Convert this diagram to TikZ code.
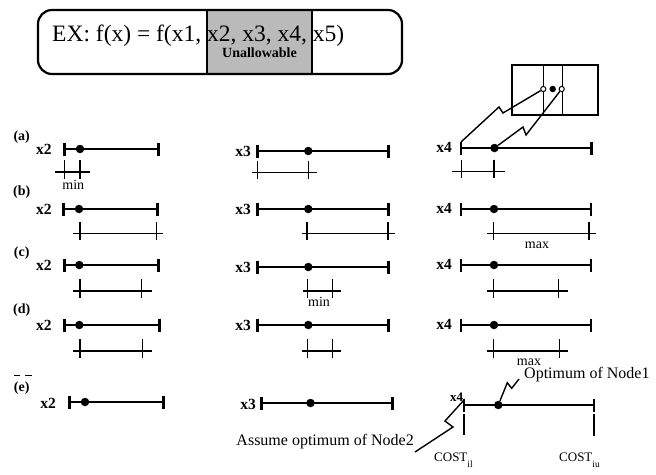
\documentclass[tikz,border=0pt]{standalone}
\usepackage{fontspec}
\setmainfont{Liberation Serif}
\newcommand{\mainbar}[5]{% name, y, left, right, dot
  \draw[mainline] (#3,#2) -- (#4,#2);
  \draw[mainline] (#3,#2-6.5) -- (#3,#2+6.5);
  \draw[mainline] (#4,#2-6.5) -- (#4,#2+6.5);
  \node[dot] (#1) at (#5,#2) {};
}
\newcommand{\subbar}[5]{% y, left, right, tick1, tick2
  \draw[subline] (#2,#1) -- (#3,#1);
  \draw[subline] (#4,#1-12) -- (#4,#1+6.5);
  \draw[subline] (#5,#1-12) -- (#5,#1+6.5);
}
\begin{document}
\begin{tikzpicture}[x=1pt,y=-1pt,
  mainline/.style={line width=2.6pt},
  subline/.style={line width=1.2pt},
  dot/.style={circle,fill,inner sep=0pt,minimum size=8.5pt},
  odot/.style={circle,draw,fill=white,inner sep=0pt,minimum size=5.2pt,line width=1pt},
  rowlab/.style={font=\fontsize{14}{16}\selectfont\bfseries,inner sep=0pt},
  varlab/.style={font=\fontsize{15.5}{17}\selectfont\bfseries,inner sep=0pt},
  smalltext/.style={font=\fontsize{14}{16}\selectfont,inner sep=0pt},
  note/.style={font=\fontsize{16}{18}\selectfont,inner sep=0pt},
  costlab/.style={font=\fontsize{13}{15}\selectfont,inner sep=0pt,anchor=base west},
  zig/.style={line width=1.4pt}]
\useasboundingbox (0,0) rectangle (656,474);

% ---- title box
\fill[black!27] (207,10) rectangle (312,74);
\draw[line width=1.3pt] (207,10) -- (207,74) (312,10) -- (312,74);
\node[draw,line width=2.2pt,rounded corners=14pt,minimum width=364pt,minimum height=64pt,inner sep=0pt] (title) at (220,42) {};
\node[anchor=base west,inner sep=0pt,font=\fontsize{23.5}{28}\selectfont] (eq) at (52,41.7) {EX: f(x) = f(x1, x2, x3, x4, x5)};
\node[smalltext,font=\fontsize{14}{16}\selectfont\bfseries] (unal) at (259.5,53) {Unallowable};

% ---- inset box
\draw[line width=1.2pt] (512,65) rectangle (598,115);
\draw[line width=1.2pt] (543.3,65) -- (543.3,115) (562.3,65) -- (562.3,115);
\node[odot] (c1) at (543.3,89) {};
\node[dot,minimum size=6.5pt] (c2) at (552.7,89) {};
\node[odot] (c3) at (561.7,89) {};

% ---- row (a)
\node[rowlab] (la) at (21.7,137) {(a)};
\node[varlab] (a2) at (43.8,149) {x2};
\mainbar{da2}{149}{64.3}{158.3}{80}
\node[varlab] (a3) at (243,151) {x3};
\mainbar{da3}{151}{257.3}{388.3}{308.3}
\node[varlab] (a4) at (444,147) {x4};
\mainbar{da4}{148}{461}{591.5}{494.5}
\coordinate (a4L) at (461,142);
\subbar{172}{55}{90}{64.3}{80}
\node[smalltext] (mina) at (73.3,185) {min};
\subbar{172.7}{251.7}{316.7}{257.3}{308.3}
\subbar{171.7}{451.7}{505}{461.7}{494}

% zigzag links to the inset
\draw[zig] (c1) -- (503,113) -- (499,107) -- (a4L);
\draw[zig] (c3) -- (526,135) -- (523,127) -- (da4);

% ---- row (b)
\node[rowlab] (lb) at (21.7,192) {(b)};
\node[varlab] (b2) at (43.8,209) {x2};
\mainbar{db2}{209}{63.5}{157.7}{79}
\node[varlab] (b3) at (243,209) {x3};
\mainbar{db3}{209}{257.3}{388.3}{308.3}
\node[varlab] (b4) at (444,208) {x4};
\mainbar{db4}{209}{461}{591}{494}
\subbar{233.5}{73}{163}{80}{156.7}
\subbar{233.5}{301.7}{395}{307}{388}
\subbar{233.5}{487.4}{596}{493.7}{589}
\node[smalltext] (maxb) at (537,245) {max};

% ---- row (c)
\node[rowlab] (lc) at (21.7,253) {(c)};
\node[varlab] (c2l) at (43.8,265) {x2};
\mainbar{dc2}{265}{64.3}{158.3}{79.3}
\node[varlab] (c3l) at (243,267) {x3};
\mainbar{dc3}{267}{257.3}{388.3}{308.3}
\node[varlab] (c4l) at (444,264) {x4};
\mainbar{dc4}{265}{461}{591}{494}
\subbar{291}{73.3}{151.7}{80}{141.7}
\subbar{291}{302.7}{340.7}{307.3}{332.7}
\node[smalltext] (minc) at (319,302) {min};
\subbar{291}{487.4}{568}{493.7}{558.6}

% ---- row (d)
\node[rowlab] (ld) at (21.7,310) {(d)};
\node[varlab] (d2) at (43.8,325) {x2};
\mainbar{dd2}{325}{64.3}{159.3}{79.3}
\node[varlab] (d3) at (243,325) {x3};
\mainbar{dd3}{325}{257.3}{388.3}{308.3}
\node[varlab] (d4) at (444,324) {x4};
\mainbar{dd4}{325}{461}{591}{494}
\subbar{351}{73.3}{151.7}{80}{142.3}
\subbar{351}{302}{341}{307.5}{332.6}
\subbar{351}{487.4}{568}{493.7}{559.4}
\node[smalltext] (maxd) at (529,362) {max};

% ---- row (e)
\draw[line width=0.8pt] (14,375) -- (20,375) (25,375) -- (31.7,375);
\node[rowlab] (le) at (21.7,388) {(e)};
\node[varlab] (e2) at (48,403) {x2};
\mainbar{de2}{402}{69.3}{163.3}{85}
\node[varlab] (e3) at (248,404) {x3};
\mainbar{de3}{403}{261.5}{392.5}{310.5}
\node[varlab,font=\fontsize{13}{15}\selectfont\bfseries] (e4) at (456.7,397) {x4};
\mainbar{de4}{405}{464}{594}{498.3}
\coordinate (e4L) at (464,400);
\draw[subline] (464,414) -- (464,435) (594,414) -- (594,436);
\node[costlab] (costl) at (434,461) {COST\raisebox{-6pt}{\fontsize{9.5}{10}\selectfont il}};
\node[costlab] (costu) at (559,461) {COST\raisebox{-6pt}{\fontsize{9.5}{10}\selectfont iu}};
\node[note,anchor=west] (opt1) at (524,375) {Optimum of Node1};
\node[note,anchor=east] (asm) at (414,442) {Assume optimum of Node2};
\coordinate (o1s) at (519,379);
\coordinate (a2s) at (415,452);
\draw[zig] (o1s) -- (511.7,388.3) -- (507.3,382.7) -- (de4);
\draw[zig] (a2s) -- (453,427) -- (445,421) -- (e4L);
\end{tikzpicture}
\end{document}
